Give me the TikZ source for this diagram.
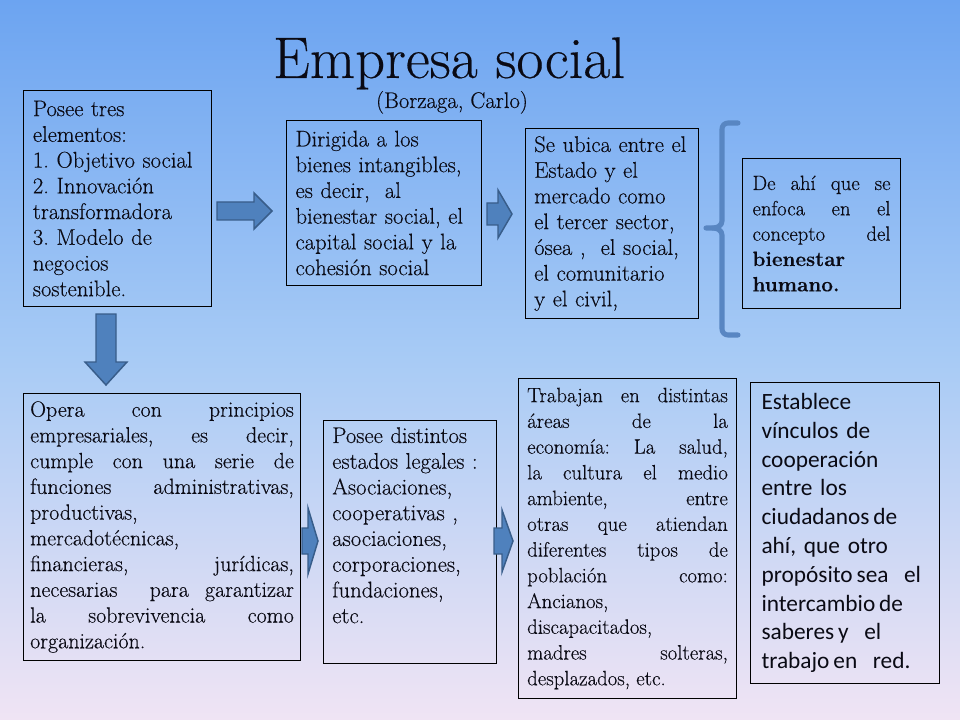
\documentclass[tikz,border=0pt]{standalone}
\usepackage{fontspec}
\newfontfamily\carlito{Carlito}
\newfontfamily\bodyrm{Latin Modern Roman}[FakeBold=0.3]
\usetikzlibrary{calc}
\definecolor{bgtop}{RGB}{108,164,241}
\definecolor{bgmid}{RGB}{168,203,245}
\definecolor{bgbot}{RGB}{240,228,244}
\definecolor{arrowfill}{RGB}{79,129,189}
\definecolor{arrowline}{RGB}{56,93,138}
\definecolor{bracketcol}{RGB}{88,134,194}
\definecolor{ink}{RGB}{10,10,20}
\newcommand\bodyfont{\bodyrm\fontsize{17}{19.3}\selectfont}
\tikzset{
  box/.style={draw=black, line width=0.8pt, anchor=north west, inner ysep=0pt, text=ink, font=\bodyfont},
  txt/.style={text=ink, font=\bodyfont},
  blockarrow/.style={fill=arrowfill, draw=arrowline, line width=1.1pt, line join=miter},
  bracketline/.style={draw=bracketcol, line width=3.8pt, line cap=round, line join=round}
}
\begin{document}
\frenchspacing
\begin{tikzpicture}[x=0.75pt,y=-0.75pt]
\useasboundingbox (0,0) rectangle (960,720);
\shade[top color=bgtop, bottom color=bgbot, middle color=bgmid] (0,0) rectangle (960,720);
\tolerance=10000 \hyphenpenalty=10000

% title
\node[txt, font=\bodyrm\fontsize{44}{52}\selectfont, anchor=base] (title) at (449,78) {Empresa social};
\node[txt, font=\bodyrm\fontsize{17}{20}\selectfont, anchor=base] (author) at (452,108) {(Borzaga, Carlo)};

% top row
\node[box, align=left, minimum width=141pt, minimum height=162pt, inner xsep=7pt, text width=127pt] (b1) at (23,90)
 {Posee tres\\ elementos:\\ 1. Objetivo social\\ 2. Innovación\\ transformadora\\ 3. Modelo de\\ negocios\\ sostenible.};
\node[box, align=left, minimum width=146.25pt, minimum height=123.75pt, inner xsep=6.75pt, text width=132.75pt] (b2) at (286,120)
 {Dirigida a los\\ bienes intangibles,\\ es decir,~ al\\ bienestar social, el\\ capital social y la\\ cohesión social};
\node[box, align=left, minimum width=129.75pt, minimum height=142.5pt, inner xsep=6.5pt, text width=116.75pt] (b3) at (525,128)
 {Se ubica entre el\\ Estado y el\\ mercado como\\ el tercer sector,\\ ósea ,~ el social,\\ el comunitario\\ y el civil,};
\node[box, align=justify, font=\bodyrm\fontsize{15.5}{19}\selectfont, minimum width=118.5pt, minimum height=112.5pt, inner xsep=7.5pt, text width=103.5pt] (b4) at (742,158)
 {De ahí que se\linebreak enfoca en el\linebreak concepto del\linebreak \textbf{bienestar}\\ \textbf{humano.}};

% bottom row
\node[box, align=justify, font=\bodyrm\fontsize{16.5}{19.3}\selectfont, minimum width=207.75pt, minimum height=200.25pt, inner xsep=5pt, text width=197.75pt] (b5) at (23,393)
 {Opera con principios\linebreak empresariales, es decir,\linebreak cumple con una serie de\linebreak funciones administrativas,\linebreak productivas,\\ mercadotécnicas,\\ financieras, jurídicas,\linebreak necesarias~ para garantizar\linebreak la sobrevivencia como\linebreak organización.};
\node[box, minimum width=129.75pt, minimum height=182.25pt] (b6) at (323,420) {};
\node[txt, anchor=north west, align=left, inner sep=0pt, text width=116.25pt] (t6) at ($(b6.north west)+(9,7)$)
 {Posee distintos\\ estados legales :\\ Asociaciones,\\ cooperativas ,\\ asociaciones,\\ corporaciones,\\ fundaciones,\\ etc.};
\node[box, align=justify, font=\bodyrm\fontsize{15.6}{19.3}\selectfont, minimum width=163.5pt, minimum height=240pt, inner xsep=6.5pt, text width=150.5pt] (b7) at (518,378)
 {Trabajan en distintas\linebreak áreas de la\linebreak economía: La salud,\linebreak la cultura el medio\linebreak ambiente, entre\linebreak otras que atiendan\linebreak diferentes tipos de\linebreak población como:\linebreak Ancianos,\\ discapacitados,\\ madres solteras,\linebreak desplazados, etc.};
\node[box, align=left, font=\carlito\fontsize{17.5}{21.6}\selectfont, minimum width=141.75pt, minimum height=225.75pt, inner xsep=8.25pt, text width=125.25pt] (b8) at (750,382)
 {Establece\\ vínculos de\\ cooperación\\ entre los\\ ciudadanos\,de\\ ahí, que otro\\ propósito\,sea~ el\\ intercambio\,de\\ saberes\,y~ el\\ trabajo\,en~ red.};

% block arrows
\draw[blockarrow] (217,202) -- (254,202) -- (254,193) -- (272,211) -- (254,229) -- (254,220) -- (217,220) -- cycle;
\draw[blockarrow] (487,203) -- (498,203) -- (498,190) -- (512,214) -- (498,238) -- (498,225) -- (487,225) -- cycle;
\draw[blockarrow] (96,314) -- (116,314) -- (116,362) -- (127,362) -- (106,385) -- (85,362) -- (96,362) -- cycle;
\draw[blockarrow] (302,528) -- (308,528) -- (308,508) -- (318,541) -- (308,574) -- (308,554) -- (302,554) -- cycle;
\draw[blockarrow] (494,528) -- (502,528) -- (502,510) -- (513,541) -- (502,572) -- (502,554) -- (494,554) -- cycle;

% bracket
\draw[bracketline] (738,123) -- (728,123) to[out=180,in=90] (722,129) -- (722,221) to[out=270,in=0] (713,228) -- (706,228);
\draw[bracketline] (713,228) to[out=0,in=90] (722,235) -- (722,329) to[out=270,in=180] (728,335) -- (738,335);
\end{tikzpicture}
\end{document}
